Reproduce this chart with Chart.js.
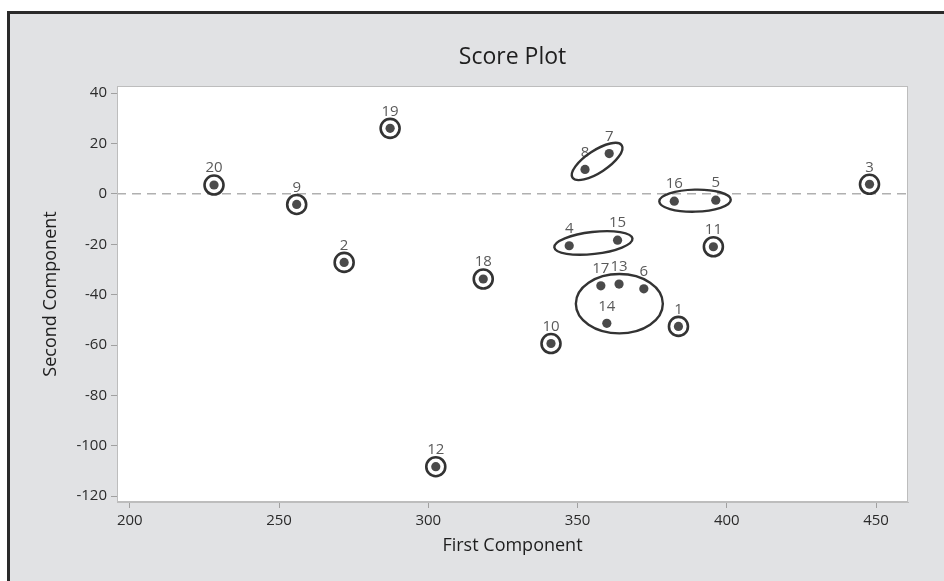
<!DOCTYPE html>
<html>
<head>
<meta charset="utf-8">
<script src="https://cdn.jsdelivr.net/npm/chart.js@4"></script>
<style>
  html, body { margin: 0; padding: 0; background: #fff; }
  #wrap { width: 944px; height: 581px; }
</style>
</head>
<body>
<div id="wrap"><canvas id="scorePlot" width="944" height="581"></canvas></div>
<script>
// observation numbers and their scores
const pointIds = [1, 2, 3, 4, 5, 6, 7, 8, 9, 10, 11, 12, 13, 14, 15, 16, 17, 18, 19, 20];
const firstComp = [383.8, 271.8, 447.8, 347.2, 396.3, 372.2, 360.6, 352.5, 255.9, 341.1,
                   395.5, 302.5, 363.9, 359.8, 363.4, 382.4, 357.8, 318.4, 287.2, 228.2];
const secondComp = [-52.6, -27.2, 3.8, -20.6, -2.5, -37.7, 16.0, 9.7, -4.2, -59.4,
                    -21.0, -108.3, -35.8, -51.4, -18.4, -2.9, -36.5, -33.8, 26.0, 3.5];

// clusters circled together
const groups = [[8, 7], [16, 5], [4, 15], [17, 13, 6, 14]];

const xTicks = [200, 250, 300, 350, 400, 450];
const yTicks = [-120, -100, -80, -60, -40, -20, 0, 20, 40];

const FONT = "'Open Sans', 'Noto Sans', sans-serif";

const grouped = groups.flat();
const allPoints = pointIds.map((id, i) => ({ x: firstComp[i], y: secondComp[i], id: id }));
const singles = allPoints.filter(p => !grouped.includes(p.id));

const framePlugin = {
    id: "frame",
    beforeDraw(chart) {
        const ctx = chart.ctx;
        const a = chart.chartArea;
        ctx.save();
        ctx.fillStyle = "#e1e2e4";
        ctx.fillRect(0, 0, chart.width, chart.height);
        ctx.fillStyle = "#ffffff";
        ctx.fillRect(0, 0, chart.width, 11);
        ctx.fillRect(0, 0, 7, chart.height);
        ctx.fillStyle = "#2a2a2a";
        ctx.fillRect(7, 11, chart.width, 3);
        ctx.fillRect(7, 11, 3, chart.height);
        ctx.fillStyle = "#ffffff";
        ctx.fillRect(a.left, a.top, a.right - a.left, a.bottom - a.top);
        ctx.restore();
    },
    beforeDatasetsDraw(chart) {
        const ctx = chart.ctx;
        const a = chart.chartArea;
        const y0 = chart.scales.y.getPixelForValue(0);
        ctx.save();
        ctx.strokeStyle = "#b0b0b0";
        ctx.lineWidth = 1.5;
        ctx.setLineDash([9, 6]);
        ctx.beginPath();
        ctx.moveTo(a.left, y0);
        ctx.lineTo(a.right, y0);
        ctx.stroke();
        ctx.setLineDash([]);
        ctx.strokeStyle = "#bdbdbd";
        ctx.lineWidth = 1;
        ctx.strokeRect(a.left + 0.5, a.top + 0.5, a.right - a.left - 1, a.bottom - a.top - 1);
        ctx.restore();
    },
    afterDatasetsDraw(chart) {
        const ctx = chart.ctx;
        const meta = chart.getDatasetMeta(0);
        const a = chart.chartArea;
        ctx.save();

        // point labels
        ctx.fillStyle = "#5a5a5a";
        ctx.font = "15px " + FONT;
        ctx.textAlign = "center";
        ctx.textBaseline = "middle";
        meta.data.forEach((el, i) => {
            ctx.fillText(String(pointIds[i]), el.x, el.y - 17);
        });

        // ellipses round clusters
        ctx.strokeStyle = "#333333";
        ctx.lineWidth = 2.4;
        groups.forEach(g => {
            const els = g.map(id => meta.data[pointIds.indexOf(id)]);
            ctx.beginPath();
            if (els.length === 2) {
                const [p, q] = els;
                const cx = (p.x + q.x) / 2, cy = (p.y + q.y) / 2;
                const half = Math.hypot(q.x - p.x, q.y - p.y) / 2;
                const ang = Math.atan2(q.y - p.y, q.x - p.x);
                ctx.ellipse(cx, cy, half + 15, 11, ang, 0, Math.PI * 2);
            } else {
                const xs = els.map(e => e.x), ys = els.map(e => e.y);
                const minX = Math.min(...xs), maxX = Math.max(...xs);
                const minY = Math.min(...ys), maxY = Math.max(...ys);
                ctx.ellipse((minX + maxX) / 2 - 3, (minY + maxY) / 2, (maxX - minX) / 2 + 22,
                            (maxY - minY) / 2 + 10, 0, 0, Math.PI * 2);
            }
            ctx.stroke();
        });

        // title
        ctx.fillStyle = "#1e1e1e";
        ctx.font = "23px " + FONT;
        ctx.textBaseline = "middle";
        ctx.fillText("Score Plot", (a.left + a.right) / 2, 57);
        ctx.restore();
    }
};

new Chart(document.getElementById("scorePlot"), {
    type: "scatter",
    data: {
        datasets: [
            {
                data: allPoints,
                pointRadius: 4.6,
                pointHoverRadius: 4.6,
                pointBackgroundColor: "#4a4a4a",
                pointBorderWidth: 0
            },
            {
                data: singles,
                pointRadius: 9.5,
                pointHoverRadius: 9.5,
                pointBackgroundColor: "rgba(0,0,0,0)",
                pointBorderColor: "#333333",
                pointBorderWidth: 2.6
            }
        ]
    },
    options: {
        responsive: false,
        animation: false,
        layout: { padding: { top: 86, right: 36, left: 0, bottom: 0 } },
        plugins: {
            legend: { display: false },
            title: { display: false },
            tooltip: { enabled: false }
        },
        scales: {
            x: {
                type: "linear",
                min: 195.7,
                max: 460.7,
                afterFit(scale) { scale.height = 79; },
                afterBuildTicks(scale) { scale.ticks = xTicks.map(v => ({ value: v })); },
                grid: { drawOnChartArea: false, color: "#a0a0a0", tickLength: 6 },
                border: { color: "#bdbdbd" },
                ticks: { color: "#2b2b2b", font: { family: FONT, size: 15 }, padding: 4 },
                title: {
                    display: true,
                    text: "First Component",
                    color: "#1e1e1e",
                    font: { family: FONT, size: 18 },
                    padding: { top: 24, bottom: 24 }
                }
            },
            y: {
                type: "linear",
                min: -122.3,
                max: 42.8,
                afterFit(scale) { scale.width = 117; },
                afterBuildTicks(scale) { scale.ticks = yTicks.map(v => ({ value: v })); },
                grid: { drawOnChartArea: false, color: "#a0a0a0", tickLength: 6 },
                border: { color: "#bdbdbd" },
                ticks: { color: "#2b2b2b", font: { family: FONT, size: 15 }, padding: 4 },
                title: {
                    display: true,
                    text: "Second Component",
                    color: "#1e1e1e",
                    font: { family: FONT, size: 18 },
                    padding: { top: 40, bottom: 40 }
                }
            }
        }
    },
    plugins: [framePlugin]
});
</script>
</body>
</html>
